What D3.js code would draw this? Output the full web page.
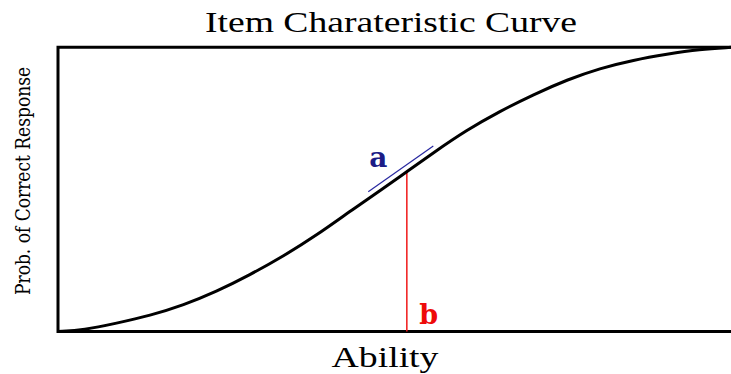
<!DOCTYPE html>
<html>
<head>
<meta charset="utf-8">
<script src="https://cdn.jsdelivr.net/npm/d3@7"></script>
<style>
  body { margin: 0; background: #fff; }
  svg { display: block; }
</style>
</head>
<body>
<div id="chart"></div>
<script>
// ability values and probability of a correct response
var theta = [-3.0, -2.77, -2.48, -2.18, -1.88, -1.59, -1.29, -0.99, -0.69, -0.40, -0.10,
             0.11, 0.35, 0.64, 0.94, 1.24, 1.54, 1.83, 2.13, 2.43, 2.72, 3.0];
var prob = [0.0, 0.005, 0.029, 0.056, 0.093, 0.140, 0.199, 0.265, 0.340, 0.422, 0.504,
            0.562, 0.630, 0.708, 0.775, 0.834, 0.886, 0.926, 0.955, 0.976, 0.993, 1.0];

// difficulty (b) and the slope segment (a)
var bTheta = 0.11, bProb = 0.562;
var aTheta = [-0.234, 0.346];
var aProb = [0.492, 0.653];

var title = "Item Charateristic Curve";
var xLabel = "Ability";
var yLabel = "Prob. of Correct Response";

var width = 731, height = 374;
var margin = {top: 47.3, right: 0, bottom: 42.5, left: 58};

var svg = d3.select("#chart")
            .append("svg")
            .attr("width", width)
            .attr("height", height);

var x = d3.scaleLinear().domain([-3, 3]).range([margin.left, width - margin.right]);
var y = d3.scaleLinear().domain([0, 1]).range([height - margin.bottom, margin.top]);

var pts = theta.map((t, i) => [t, prob[i]]);

// frame (top, left, bottom; right side is open)
var frame = d3.line();
svg.append("path")
    .attr("d", frame([[x(3), y(1)], [x(-3), y(1)], [x(-3), y(0)], [x(3), y(0)]]))
    .attr("fill", "none")
    .attr("stroke", "#000")
    .attr("stroke-width", 3);

// b line
svg.append("line")
    .attr("x1", x(bTheta)).attr("x2", x(bTheta))
    .attr("y1", y(0)).attr("y2", y(bProb))
    .attr("stroke", "#f01818")
    .attr("stroke-width", 1.5);

// a tangent
svg.append("line")
    .attr("x1", x(aTheta[0])).attr("y1", y(aProb[0]))
    .attr("x2", x(aTheta[1])).attr("y2", y(aProb[1]))
    .attr("stroke", "#2828a0")
    .attr("stroke-width", 1.2);

// the curve
var line = d3.line()
    .x(d => x(d[0]))
    .y(d => y(d[1]))
    .curve(d3.curveBasis);

svg.append("path")
    .datum(pts)
    .attr("d", line)
    .attr("fill", "none")
    .attr("stroke", "#000")
    .attr("stroke-width", 3);

// labels a and b
svg.append("text")
    .attr("x", x(-0.225)).attr("y", y(0.578))
    .attr("font-family", "DejaVu Serif")
    .attr("font-weight", "bold")
    .attr("font-size", 28)
    .attr("fill", "#1c1c86")
    .text("a");

svg.append("text")
    .attr("x", x(0.221)).attr("y", y(0.026))
    .attr("font-family", "DejaVu Serif")
    .attr("font-weight", "bold")
    .attr("font-size", 27)
    .attr("fill", "#ee0a0a")
    .text("b");

// title and axis labels
svg.append("text")
    .attr("x", 391).attr("y", 31.7)
    .attr("text-anchor", "middle")
    .attr("font-family", "Liberation Serif")
    .attr("font-size", 30)
    .attr("textLength", 372)
    .attr("lengthAdjust", "spacingAndGlyphs")
    .text(title);

svg.append("text")
    .attr("x", 385).attr("y", 366.7)
    .attr("text-anchor", "middle")
    .attr("font-family", "Liberation Serif")
    .attr("font-size", 30)
    .attr("textLength", 107)
    .attr("lengthAdjust", "spacingAndGlyphs")
    .text(xLabel);

svg.append("text")
    .attr("transform", "translate(29.5,181) scale(1.25,1) rotate(-90)")
    .attr("text-anchor", "middle")
    .attr("font-family", "DejaVu Serif")
    .attr("font-size", 17)
    .attr("textLength", 228)
    .attr("lengthAdjust", "spacingAndGlyphs")
    .text(yLabel);
</script>
</body>
</html>
